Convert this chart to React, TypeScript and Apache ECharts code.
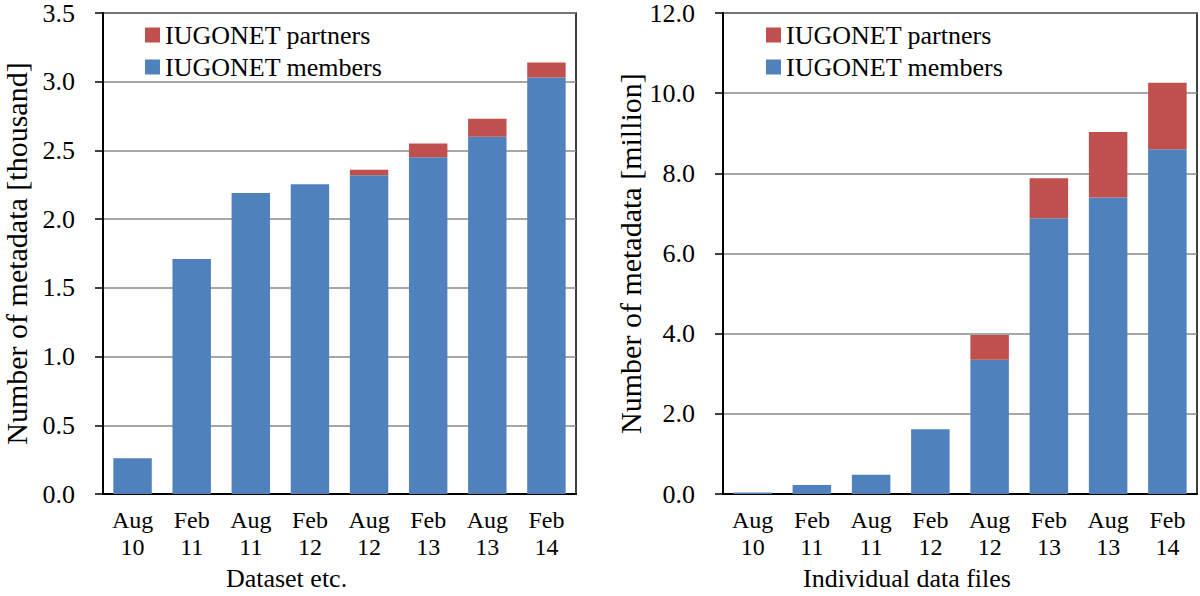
import React, { useEffect, useRef } from "react";
import * as echarts from "echarts";

const categories = ["Aug\n10", "Feb\n11", "Aug\n11", "Feb\n12", "Aug\n12", "Feb\n13", "Aug\n13", "Feb\n14"];
const seriesNames = ["IUGONET partners", "IUGONET members"];
// Left panel: Dataset etc. [thousand]
const datasetMembers = [0.26, 1.71, 2.19, 2.255, 2.32, 2.45, 2.6, 3.03];
const datasetPartners = [0, 0, 0, 0, 0.04, 0.1, 0.13, 0.11];
// Right panel: Individual data files [million]
const filesMembers = [0.04, 0.23, 0.48, 1.62, 3.35, 6.88, 7.4, 8.6];
const filesPartners = [0, 0, 0, 0, 0.62, 1.0, 1.63, 1.66];

const leftTicks = { min: 0, max: 3.5, interval: 0.5 };
const rightTicks = { min: 0, max: 12, interval: 2 };

const BLUE = "#4F81BD";
const RED = "#C0504D";
const FONT = "'Liberation Serif', 'Times New Roman', serif";

export default function App() {
  const ref = useRef<HTMLDivElement>(null);
  useEffect(() => {
    document.body.style.margin = "0";
    if (!ref.current) return;
    const chart = echarts.init(ref.current, undefined, { renderer: "svg" });
    const text = { fontFamily: FONT, color: "#000", fontSize: 26 };
    const mkX = (gridIndex: number, name: string) => ({
      type: "category",
      gridIndex,
      data: categories,
      name,
      nameLocation: "middle",
      nameGap: 68,
      nameTextStyle: { ...text, fontSize: 26, padding: [0, 106, 0, 0] },
      axisLine: { show: true, lineStyle: { color: "#000", width: 2 } },
      axisTick: { show: false },
      axisLabel: { ...text, fontSize: 24, lineHeight: 27, margin: 12, interval: 0 },
    });
    const mkY = (gridIndex: number, name: string, t: any, gap: number) => ({
      type: "value",
      gridIndex,
      min: t.min,
      max: t.max,
      interval: t.interval,
      name,
      nameLocation: "middle",
      nameGap: gap,
      nameRotate: 90,
      nameTextStyle: { ...text, fontSize: 30 },
      axisLine: { show: true, lineStyle: { color: "#000", width: 2 } },
      axisTick: { show: true, length: 8, lineStyle: { color: "#000", width: 1.5 } },
      axisLabel: { ...text, margin: 28, formatter: (v: number) => v.toFixed(1) },
      splitLine: { show: true, lineStyle: { color: "#8a8a8a", width: 1.5 } },
    });
    const mkLegend = (left: number) => ({
      orient: "vertical",
      left,
      top: 17,
      itemWidth: 15,
      itemHeight: 15,
      itemGap: 6,
      data: seriesNames,
      textStyle: { ...text, lineHeight: 26 },
      icon: "rect",
    });
    const barCommon = { type: "bar", barCategoryGap: "35%" };
    chart.setOption({
      animation: false,
      backgroundColor: "#fff",
      grid: [
        { left: 102, top: 10, width: 474, height: 488, show: true, borderColor: "#000", borderWidth: 1.5 },
        { left: 723, top: 10, width: 474, height: 488, show: true, borderColor: "#000", borderWidth: 1.5 },
      ],
      legend: [mkLegend(140), mkLegend(761)],
      xAxis: [mkX(0, "Dataset etc."), mkX(1, "Individual data files")],
      yAxis: [
        mkY(0, "Number of metadata [thousand]", leftTicks, 72),
        mkY(1, "Number of metadata [million]", rightTicks, 78),
      ],
      series: [
        { ...barCommon, name: seriesNames[1], stack: "a", xAxisIndex: 0, yAxisIndex: 0, data: datasetMembers, itemStyle: { color: BLUE } },
        { ...barCommon, name: seriesNames[0], stack: "a", xAxisIndex: 0, yAxisIndex: 0, data: datasetPartners, itemStyle: { color: RED } },
        { ...barCommon, name: seriesNames[1], stack: "b", xAxisIndex: 1, yAxisIndex: 1, data: filesMembers, itemStyle: { color: BLUE } },
        { ...barCommon, name: seriesNames[0], stack: "b", xAxisIndex: 1, yAxisIndex: 1, data: filesPartners, itemStyle: { color: RED } },
      ],
    });
    return () => chart.dispose();
  }, []);
  return <div ref={ref} style={{ width: 1200, height: 596 }} />;
}
